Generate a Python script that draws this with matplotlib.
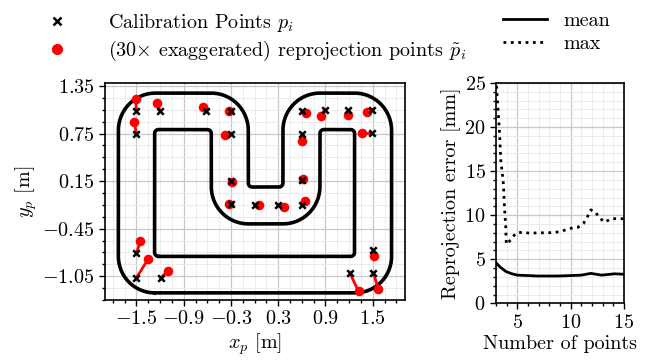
import numpy as np
import matplotlib
matplotlib.use("Agg")
import matplotlib.pyplot as plt
from matplotlib.ticker import FixedLocator, MultipleLocator
from matplotlib.lines import Line2D

plt.rcParams["font.family"] = "serif"
plt.rcParams["font.serif"] = ["cmr10"]
plt.rcParams["mathtext.fontset"] = "cm"
plt.rcParams["axes.formatter.use_mathtext"] = True
plt.rcParams["font.size"] = 14.5

# calibration points p_i [m]
calib_x = [-1.50, -1.50, -1.20, -0.62, -0.30, -0.30, -0.30, -0.30, 0.00, 0.30, 0.60, 0.60,
           0.60, 0.60, 0.89, 1.19, 1.49, 1.49, 1.51, 1.51, 1.21, -1.50, -1.50, -1.19]
calib_y = [1.03, 0.75, 1.03, 1.03, 1.04, 0.75, 0.15, -0.14, -0.15, -0.15, -0.15, 0.16,
           0.75, 1.04, 1.05, 1.05, 1.05, 0.76, -0.72, -1.01, -1.01, -0.76, -1.07, -1.07]
# reprojected points (30x exaggerated)
rep_x = [-1.51, -1.53, -1.24, -0.65, -0.33, -0.38, -0.285, -0.32, 0.055, 0.37, 0.64, 0.61,
         0.60, 0.65, 0.84, 1.19, 1.43, 1.36, 1.52, 1.57, 1.32, -1.45, -1.35, -1.10]
rep_y = [1.19, 0.90, 1.14, 1.08, 1.04, 0.73, 0.14, -0.14, -0.155, -0.18, -0.10, 0.17,
         0.66, 1.01, 0.97, 0.98, 1.02, 0.76, -0.79, -1.21, -1.24, -0.61, -0.83, -0.98]

# track outlines: corner vertices and corner radii
outer_vx = [-1.73, -1.73, -0.08, -0.08, 0.36, 0.36, 1.74, 1.74]
outer_vy = [-1.26, 1.26, 1.26, 0.075, 0.075, 1.26, 1.26, -1.26]
outer_r = [0.46, 0.47, 0.47, 0.05, 0.05, 0.47, 0.47, 0.46]
inner_vx = [-1.27, -1.27, -0.55, -0.55, 0.83, 0.83, 1.27, 1.27]
inner_vy = [-0.80, 0.80, 0.80, -0.39, -0.39, 0.80, 0.80, -0.80]
inner_r = [0.05, 0.05, 0.05, 0.47, 0.47, 0.05, 0.05, 0.05]

# reprojection error vs number of points
mean_n = [3.0, 3.4, 3.95, 4.5, 5.0, 6.0, 6.9, 8.0, 8.8, 10.0, 11.0, 11.9, 12.9, 14.15, 15.0]
mean_err = [4.6, 4.1, 3.6, 3.35, 3.2, 3.15, 3.1, 3.1, 3.1, 3.15, 3.2, 3.4, 3.2, 3.35, 3.3]
max_n = [3.0, 3.04, 3.16, 3.26, 3.35, 3.45, 3.58, 3.67, 3.73, 3.8, 3.9, 3.97, 4.37, 4.85,
         5.48, 6.2, 6.9, 7.7, 8.5, 9.2, 9.9, 10.65, 11.2, 11.57, 11.9, 12.3, 12.7, 13.2,
         13.8, 14.5, 15.0]
max_err = [25.5, 24.75, 22.5, 20.75, 18.9, 16.2, 14.85, 13.9, 12.6, 10.8, 9.0, 6.7, 7.18,
           7.94, 8.08, 7.94, 8.0, 8.0, 8.03, 8.2, 8.5, 8.6, 9.05, 9.8, 10.6, 10.4, 9.7,
           9.2, 9.6, 9.6, 9.6]


def rounded(vx, vy, radii, n=30):
    v = np.column_stack([vx, vy])
    pts = []
    for i in range(len(v)):
        V, P, N = v[i], v[i - 1], v[(i + 1) % len(v)]
        d1 = (P - V) / np.linalg.norm(P - V)
        d2 = (N - V) / np.linalg.norm(N - V)
        r = radii[i]
        c = V + r * (d1 + d2)
        t = np.linspace(0, np.pi / 2, n)[:, None]
        pts.append(c - r * d2 * np.cos(t) - r * d1 * np.sin(t))
    pts = np.vstack(pts)
    return np.vstack([pts, pts[:1]])


fig = plt.figure(figsize=(6.46, 3.62), dpi=100)
ax = fig.add_axes([0.1625, 0.1713, 0.4644, 0.600])
ax2 = fig.add_axes([0.7678, 0.162, 0.198, 0.609])

for a in (ax, ax2):
    a.grid(True, which="major", color="#c8c8c8", lw=0.9)
    a.grid(True, which="minor", color="#ebebeb", lw=0.7)
    a.set_axisbelow(True)
    a.tick_params(which="both", direction="out", width=1)
    a.tick_params(which="major", length=4)
    a.tick_params(which="minor", length=2.5)
    for s in a.spines.values():
        s.set_linewidth(1.2)

for vx, vy, rr in ((outer_vx, outer_vy, outer_r), (inner_vx, inner_vy, inner_r)):
    p = rounded(vx, vy, rr)
    ax.plot(p[:, 0], p[:, 1], color="black", lw=2.6, solid_capstyle="round", zorder=2)

for cx, cy, rx, ry in zip(calib_x, calib_y, rep_x, rep_y):
    ax.plot([cx, rx], [cy, ry], color="red", lw=2, zorder=3)
ax.scatter(rep_x, rep_y, s=48, color="red", zorder=4, linewidths=0)
ax.scatter(calib_x, calib_y, s=22, marker="x", color="black", linewidths=1.8, zorder=5)

ax.set_xlim(-1.9, 1.91)
ax.set_ylim(-1.35, 1.39)
ax.xaxis.set_major_locator(FixedLocator([-1.5, -0.9, -0.3, 0.3, 0.9, 1.5]))
ax.yaxis.set_major_locator(FixedLocator([-1.05, -0.45, 0.15, 0.75, 1.35]))
ax.xaxis.set_minor_locator(MultipleLocator(0.15))
ax.yaxis.set_minor_locator(MultipleLocator(0.15))
ax.set_xticklabels(["$-1.5$", "$-0.9$", "$-0.3$", "$0.3$", "$0.9$", "$1.5$"])
ax.set_yticklabels(["$-1.05$", "$-0.45$", "$0.15$", "$0.75$", "$1.35$"])
ax.set_xlabel("$x_p$ [m]", labelpad=2)
ax.set_ylabel("$y_p$ [m]", labelpad=2)

ax2.plot(mean_n, mean_err, color="black", lw=2, label="mean")
ax2.plot(max_n, max_err, color="black", lw=2, ls=":", label="max")
ax2.set_xlim(3, 15)
ax2.set_ylim(0, 25)
ax2.xaxis.set_major_locator(MultipleLocator(5))
ax2.xaxis.set_minor_locator(MultipleLocator(1))
ax2.yaxis.set_major_locator(MultipleLocator(5))
ax2.yaxis.set_minor_locator(MultipleLocator(1))
ax2.set_xlabel("Number of points", labelpad=2)
ax2.set_ylabel("Reprojection error [mm]", labelpad=2)

h1 = [Line2D([], [], ls="", marker="x", color="black", ms=6, mew=1.8),
      Line2D([], [], ls="", marker="o", color="red", ms=7)]
fig.legend(h1, ["Calibration Points $p_i$",
                r"(30${\times}$ exaggerated) reprojection points $\tilde{p}_i$"],
           loc="upper left", bbox_to_anchor=(0.045, 0.99), frameon=False,
           handletextpad=1.5, labelspacing=0.25, borderaxespad=0)
fig.legend(loc="upper left", bbox_to_anchor=(0.766, 0.99), frameon=False,
           handlelength=2.2, handletextpad=0.8, labelspacing=0.25, borderaxespad=0)

fig.savefig("out.png", dpi=100)
